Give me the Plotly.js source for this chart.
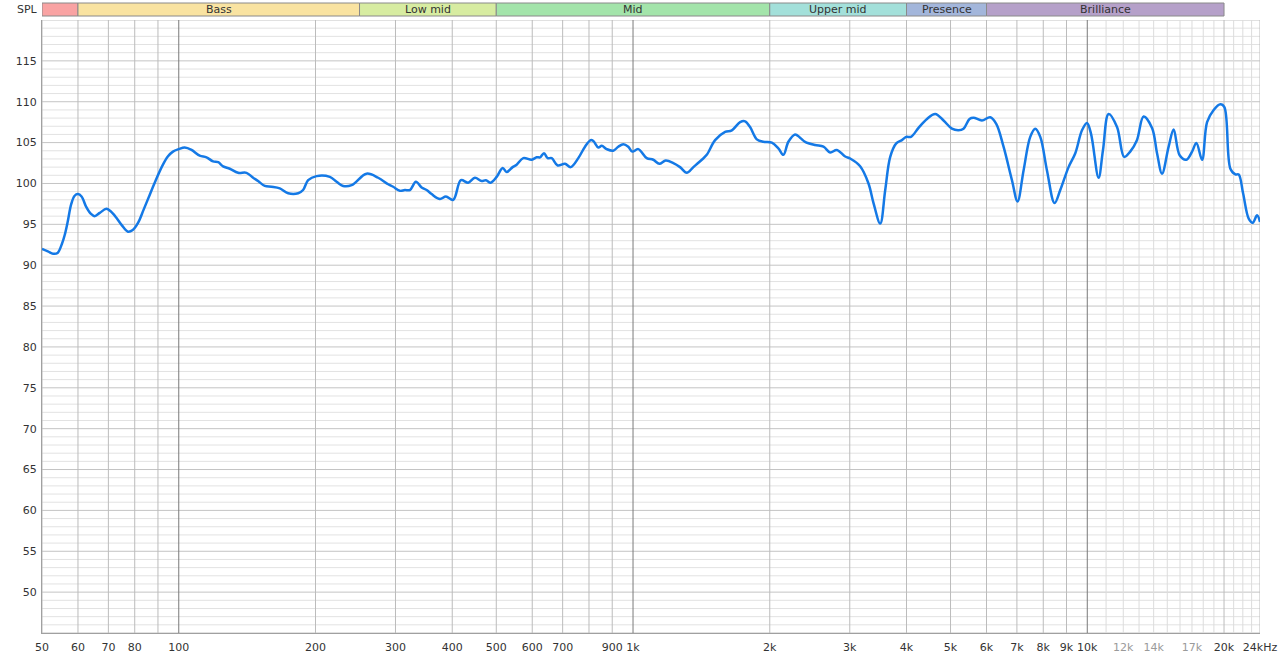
<!DOCTYPE html>
<html>
<head>
<meta charset="utf-8">
<script src="https://cdn.plot.ly/plotly-3.0.1.min.js"></script>
<style>
html,body{margin:0;padding:0;background:#fff;}
#chart{width:1280px;height:659px;}
</style>
</head>
<body>
<div id="chart"></div>
<script>
// ---- data (frequency in Hz, SPL in dB) ----
const freq = [50,51.5,52.9,54.1,55.3,56.1,56.9,58.0,59.0,60,61.1,62.6,64.0,65.3,67.0,69.3,70.8,72.9,74.9,77.3,79.2,81.4,83.7,86.3,89.0,92.3,94.6,97.1,100,103.1,106.7,111.2,115.1,119.0,122.1,125.2,129.5,135.1,141.0,145.8,149.5,154.7,160.0,166.9,174.1,183.2,187.8,192.7,201.1,215.1,222.6,230.1,240.2,259.1,274.8,289.1,296.5,306.8,314.6,322.7,332.7,342.5,351.3,360.3,375.8,387.4,402.0,417.9,433.7,448.7,464.2,474.5,486.0,501.0,516.5,527.0,543.3,554.4,573.4,598.4,613.7,624.1,636.8,648.9,662.2,682.6,708.3,729.2,757.8,784.0,807.0,817.8,838.8,853.4,875.3,904.6,928.0,952.0,976.3,996.5,1027,1072,1108,1143,1180,1227,1269,1313,1358,1417,1453,1516,1595,1650,1721,1765,1810,1873,1936,2021,2089,2143,2198,2274,2332,2392,2517,2626,2716,2810,2931,3006,3162,3299,3384,3501,3591,3683,3797,3908,3994,4091,4251,4437,4627,4826,5035,5206,5340,5505,5618,5863,6115,6304,6541,6826,7023,7240,7489,7683,7880,8152,8472,8720,9095,9410,9735,9985,10189,10590,10829,11142,11627,12057,12430,12860,13305,13886,14242,14607,15105,15492,15970,16520,17010,17385,17893,18352,18978,19634,20035,20654,21184,21544,22027,22664,23129,23651,24000];
const spl = [92.0,91.7,91.4,91.5,92.6,93.7,95.2,97.5,98.5,98.7,98.4,97.1,96.3,96.0,96.4,96.9,96.6,95.8,94.9,94.1,94.3,95.2,96.8,98.6,100.4,102.3,103.3,103.9,104.2,104.4,104.1,103.4,103.2,102.7,102.6,102.1,101.8,101.3,101.3,100.7,100.3,99.7,99.6,99.4,98.8,98.8,99.2,100.4,100.9,100.8,100.2,99.7,99.8,101.2,100.7,99.9,99.6,99.1,99.2,99.2,100.2,99.5,99.2,98.7,98.1,98.4,98.0,100.4,100.1,100.7,100.3,100.4,100.1,100.8,101.9,101.4,102.0,102.3,103.1,102.9,103.2,103.2,103.7,103.1,103.1,102.2,102.4,102.0,103.1,104.5,105.3,105.2,104.4,104.6,104.2,104.0,104.5,104.8,104.5,103.9,104.2,103.1,102.9,102.4,102.8,102.5,102.0,101.3,102.0,102.9,103.5,105.3,106.3,106.5,107.5,107.6,106.9,105.4,105.1,105.0,104.3,103.5,105.1,106.0,105.6,105.1,104.7,104.5,103.8,104.1,103.3,103.05,102.1,100.0,97.6,95.1,99.2,103.25,104.9,105.3,105.7,105.7,106.8,107.9,108.5,107.7,106.7,106.5,106.7,107.9,108.05,107.7,108.1,107.3,104.5,100.4,97.8,101.6,105.7,106.7,105.7,101.6,97.6,99.2,102.0,103.7,106.5,107.4,106.1,100.7,104.1,108.5,106.9,103.25,103.9,105.3,108.2,106.8,103.7,101.2,104.5,106.6,103.45,102.9,103.9,104.95,102.9,107.5,109.0,109.7,109.35,101.8,101.1,101.1,98.8,95.7,95.2,96.1,95.3];

// ---- axis ticks ----
const yTickVals = [50,55,60,65,70,75,80,85,90,95,100,105,110,115];
const xTickVals = [50,60,70,80,100,200,300,400,500,600,700,900,1000,2000,3000,4000,5000,6000,7000,8000,9000,10000,12000,14000,17000,20000,24000];
const xTickText = ['50','60','70','80','100','200','300','400','500','600','700','900','1k','2k','3k','4k','5k','6k','7k','8k','9k','10k','12k','14k','17k','20k','24kHz'];
const xTickDim = ['12k','14k','17k'];

// ---- grid positions ----
const hGridMajor = [45,50,55,60,65,70,75,80,85,90,95,100,105,110,115,120];
const hGridMinor = [];
for (let v = 46; v < 120; v++) if (v % 5 !== 0) hGridMinor.push(v);
const gridMajor = [50,60,70,80,90,200,300,400,500,600,700,800,900,2000,3000,4000,5000,6000,7000,8000,9000,20000,24000];
const gridDecade = [100,1000,10000];
const gridFine = [11000,12000,13000,14000,15000,16000,17000,18000,19000,21000,22000,23000];

// ---- frequency bands ----
const bandNames = ['', 'Bass', 'Low mid', 'Mid', 'Upper mid', 'Presence', 'Brilliance'];
const bandStart = [50, 60, 250, 500, 2000, 4000, 6000];
const bandEnd = [60, 250, 500, 2000, 4000, 6000, 20000];
const bandColors = ['#f9a3a3', '#f9e3a1', '#d7eca1', '#a3e4aa', '#a3e0da', '#a3b6db', '#b5a0c9'];

const shapes = [];
hGridMinor.forEach(v => shapes.push({type:'line', xref:'paper', yref:'y', x0:0, x1:1, y0:v, y1:v, layer:'below', line:{color:'#e2e2e2', width:1}}));
hGridMajor.forEach(v => shapes.push({type:'line', xref:'paper', yref:'y', x0:0, x1:1, y0:v, y1:v, layer:'below', line:{color:'#c4c4c4', width:1}}));
gridFine.forEach(f => shapes.push({type:'line', xref:'x', yref:'paper', x0:f, x1:f, y0:0, y1:1, layer:'below', line:{color:'#dcdcdc', width:1}}));
gridMajor.forEach(f => shapes.push({type:'line', xref:'x', yref:'paper', x0:f, x1:f, y0:0, y1:1, layer:'below', line:{color:'#bcbcbc', width:1}}));
gridDecade.forEach(f => shapes.push({type:'line', xref:'x', yref:'paper', x0:f, x1:f, y0:0, y1:1, layer:'below', line:{color:'#7a7a7a', width:1}}));

const topM = 20, botM = 26, plotH = 659 - topM - botM;
const bandTop = 1 + (topM - 3) / plotH;
const bandBot = 1 + (topM - 16) / plotH;
const annotations = [];
bandNames.forEach((n, i) => {
  shapes.push({type:'rect', xref:'x', yref:'paper', x0:bandStart[i], x1:bandEnd[i], y0:bandBot, y1:bandTop,
    fillcolor:bandColors[i], line:{color:'#8a8a8a', width:1}, layer:'above'});
  if (n) annotations.push({xref:'x', yref:'paper', x:(Math.log10(bandStart[i]) + Math.log10(bandEnd[i])) / 2, y:(bandTop+bandBot)/2,
    text:n, showarrow:false, xanchor:'center', yanchor:'middle', font:{family:'DejaVu Sans', size:11, color:'#333'}});
});
annotations.push({xref:'paper', yref:'paper', x:0, y:(bandTop+bandBot)/2, xanchor:'right', yanchor:'middle', xshift:-2,
  text:'SPL', showarrow:false, font:{family:'DejaVu Sans', size:11, color:'#333'}});

const ticktext = xTickText.map(t => xTickDim.includes(t) ? '<span style="color:#9a9a9a">' + t + '</span>' : t);

const trace = {
  x: freq, y: spl, type:'scatter', mode:'lines',
  line:{color:'#1479e6', width:2.5, shape:'spline', smoothing:1},
  hoverinfo:'x+y'
};

const layout = {
  width:1280, height:659,
  margin:{l:42, r:20, t:topM, b:botM},
  paper_bgcolor:'#ffffff', plot_bgcolor:'#ffffff',
  showlegend:false,
  font:{family:'DejaVu Sans', size:11, color:'#333'},
  xaxis:{type:'log', range:[Math.log10(50), Math.log10(24000)], showgrid:false, zeroline:false,
    tickmode:'array', tickvals:xTickVals, ticktext:ticktext, ticks:'outside', ticklen:4, tickcolor:'rgba(0,0,0,0)',
    showline:true, linecolor:'#a0a0a0', linewidth:1, tickfont:{family:'DejaVu Sans', size:11, color:'#333'}},
  yaxis:{range:[45,120], tickmode:'array', tickvals:yTickVals, zeroline:false, showgrid:false,
    showline:true, linecolor:'#a0a0a0', linewidth:1,
    ticks:'outside', ticklen:2, tickcolor:'rgba(0,0,0,0)', tickfont:{family:'DejaVu Sans', size:11, color:'#333'}},
  shapes: shapes,
  annotations: annotations
};

Plotly.newPlot('chart', [trace], layout, {displayModeBar:false, staticPlot:true});
</script>
</body>
</html>
